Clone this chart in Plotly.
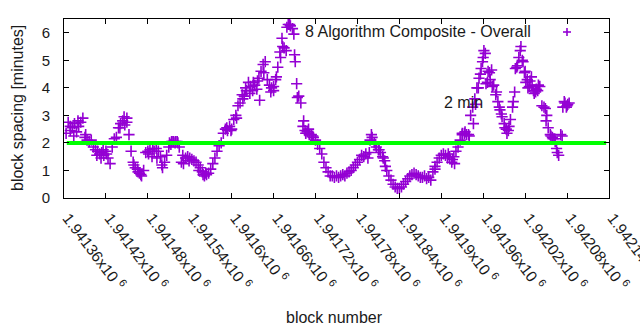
import plotly.graph_objects as go

# ---- data -------------------------------------------------------------
first_block = 1941363
block_step = 3
spacing_minutes = [
    2.35, 2.75, 2.6, 2.55, 2.7, 2.4, 2.6, 2.75, 2.9,
    2.2, 2.1, 2.05, 2.1, 1.85, 1.75, 1.7, 1.6, 1.65, 1.55, 1.7, 1.45, 1.25,
    1.85, 2.15, 2.2, 2.55, 2.7, 2.8, 2.65, 2.9, 2.3, 1.7, 1.3, 1.1, 1.05, 0.9, 0.8, 1.0,
    1.65, 1.7, 1.75, 1.5, 1.7, 1.8, 1.7, 1.5, 1.1, 1.3, 1.55, 1.85, 1.95, 2.05, 2.0, 2.05,
    1.85, 1.3, 1.25, 1.45, 1.5, 1.45, 1.4, 1.35, 1.3, 1.2, 1.1, 0.95, 0.8, 0.85, 0.9, 1.05,
    1.25, 1.45, 1.7, 1.9, 2.0, 2.35, 2.5, 2.45, 2.6, 2.5, 2.85, 3.0, 3.35, 3.45, 3.75, 3.7,
    3.9, 4.2, 4.05, 3.9, 4.1, 3.95, 4.35, 4.6, 4.85, 4.95, 4.3, 4.1, 4.0, 3.9, 4.3, 4.75,
    5.3, 5.8, 5.45, 5.35, 6.3, 6.25, 6.15, 5.2, 4.15, 3.7, 3.45, 2.6, 2.45, 2.4, 2.3, 2.3,
    2.2, 2.1, 1.95, 1.8, 1.6, 1.3, 1.1, 0.95, 0.8, 0.8, 0.75, 0.8, 0.75, 0.8, 0.85, 0.8,
    0.9, 0.95, 1.0, 1.1, 1.2, 1.3, 1.4, 1.55, 1.5, 1.6, 1.45, 2.1, 2.2, 2.0, 1.85, 1.75,
    1.65, 1.5, 1.35, 1.0, 0.8, 0.65, 0.5, 0.4, 0.35, 0.35, 0.4, 0.5, 0.6, 0.7, 0.8, 0.85,
    0.9, 0.85, 0.8, 0.75, 0.75, 0.8, 0.7, 0.75, 0.65, 0.95, 1.15, 1.3, 1.45, 1.55, 1.6, 1.55,
    1.45, 1.5, 1.3, 1.5, 1.7, 1.85, 2.1, 2.3, 2.35, 2.3, 2.3, 3.0, 3.3, 3.6, 4.0, 4.35,
    4.7, 5.1, 5.25, 4.2, 4.55, 4.65, 4.1, 3.75, 3.5, 3.2, 2.95, 2.7, 2.5, 2.45, 2.85, 3.3,
    3.85, 4.75, 5.1, 5.5, 4.95, 4.6, 4.3, 4.05, 4.4, 3.9, 3.85, 3.9, 4.05, 3.35, 3.3, 2.8,
    2.55, 2.3, 2.2, 2.15, 1.8, 1.55, 2.3, 3.3, 3.45, 3.35,
]
blocks = [first_block + block_step * i for i in range(len(spacing_minutes))]

# additional scattered blocks
extra_blocks = [
    1941369, 1941374, 1941380, 1941391, 1941407, 1941413, 1941416, 1941421,
    1941440, 1941446, 1941450, 1941460, 1941466, 1941470, 1941481, 1941487,
    1941493, 1941500, 1941511, 1941514, 1941517, 1941520, 1941523, 1941530,
    1941539, 1941553, 1941559, 1941563, 1941593, 1941599, 1941607, 1941616,
    1941620, 1941626, 1941631, 1941637, 1941640, 1941646, 1941656, 1941660,
    1941664, 1941670, 1941673, 1941679, 1941683, 1941689, 1941691, 1941694,
    1941703, 1941706, 1941710, 1941716, 1941797, 1941800, 1941806, 1941811,
    1941817, 1941820, 1941891, 1941910, 1941916, 1941919, 1941930, 1941934,
    1941940, 1941946, 1941949, 1941953, 1941956, 1941959, 1941961, 1941964,
    1941967, 1941970, 1941973, 1941979, 1941983, 1941986, 1941991, 1941994,
    1941997, 1942003, 1942006, 1942009, 1942013, 1942016, 1942019, 1942021,
    1942024, 1942027, 1942030, 1942033, 1942036, 1942039, 1942049, 1942051,
    1942057, 1942060, 1942063, 1942066, 1942073, 1942076, 1942079, 1942081,
    1942083,
]
extra_minutes = [
    2.45, 2.25, 2.8, 2.3, 1.55, 1.45, 1.75, 1.6,
    2.55, 2.95, 2.75, 1.2, 0.95, 0.85, 1.6, 1.8,
    1.45, 1.2, 2.0, 2.05, 2.05, 2.05, 2.0, 1.55,
    1.35, 1.0, 0.85, 0.9, 2.55, 2.45, 2.9, 3.6,
    4.0, 3.8, 4.2, 4.25, 3.55, 4.55, 3.85, 4.05,
    4.4, 5.1, 5.5, 6.2, 6.3, 5.95, 4.95, 3.65,
    2.8, 2.35, 2.5, 2.25, 1.65, 2.3, 1.95, 1.75,
    1.45, 1.15, 1.05, 1.6, 1.4, 1.25, 2.35, 2.4,
    2.25, 2.7, 3.4, 4.0, 4.5, 4.95, 5.35, 4.15,
    4.6, 4.3, 4.05, 3.85, 3.3, 3.05, 2.55, 2.35,
    2.6, 3.5, 4.7, 4.8, 5.35, 5.0, 4.55, 4.2,
    4.0, 4.25, 4.1, 3.8, 3.95, 4.1, 3.25, 3.0,
    2.25, 2.15, 2.05, 1.65, 2.25, 3.5, 3.3, 3.4,
    3.45,
]

target_blocks = [1941364, 1942136]
target_minutes = [2, 2]

x_tick_blocks = [1941360 + 60 * k for k in range(14)]
x_tick_text = ["1.94136", "1.94142", "1.94148", "1.94154", "1.9416", "1.94166",
               "1.94172", "1.94178", "1.94184", "1.9419", "1.94196", "1.94202",
               "1.94208", "1.94214"]
y_ticks = [0, 1, 2, 3, 4, 5, 6]

series_name = "8 Algorithm Composite - Overall"
target_name = "2 min"

PURPLE = "#9400D3"
GREEN = "#00FF00"
FONT = "Liberation Sans, Arial, sans-serif"
TXT = "#1a1a1a"

L, R, T, B = 64, 609, 19, 198
PW, PH = R - L, B - T

pts = sorted(zip(blocks + extra_blocks, spacing_minutes + extra_minutes))

fig = go.Figure()
fig.add_trace(go.Scatter(
    x=[p[0] for p in pts], y=[p[1] for p in pts], mode="markers", name=series_name,
    marker=dict(symbol="cross-thin", size=8, line=dict(color=PURPLE, width=1.6)),
    showlegend=False,
))
fig.add_trace(go.Scatter(
    x=target_blocks, y=target_minutes, mode="lines", name=target_name,
    line=dict(color=GREEN, width=4), showlegend=False,
))

axis_common = dict(
    showline=True, linecolor="black", linewidth=1, mirror="ticks",
    ticks="inside", ticklen=5, tickcolor="black", showgrid=False, zeroline=False,
    automargin=False,
)
fig.update_xaxes(
    range=[1941360, 1942140.05], tickvals=x_tick_blocks,
    ticktext=[t + "x10 <sup>6</sup>" for t in x_tick_text], tickangle=53,
    tickfont=dict(family=FONT, size=15.5, color=TXT),
    ticklabelstandoff=4, ticklabelshift=4, ticklabeloverflow="allow",
    **axis_common,
)
fig.update_yaxes(
    range=[0, 6.5], tickvals=y_ticks,
    tickfont=dict(family=FONT, size=15, color=TXT),
    ticklabelstandoff=10,
    **axis_common,
)

# axis titles
fig.add_annotation(xref="paper", yref="paper", x=(334.5 - L) / PW, y=(B - 317) / PH,
                   xanchor="center", yanchor="middle", text="block number", showarrow=False,
                   font=dict(family=FONT, size=16, color=TXT))
fig.add_annotation(xref="paper", yref="paper", x=(17 - L) / PW, y=(B - 108) / PH,
                   xanchor="center", yanchor="middle", text="block spacing [minutes]",
                   textangle=-90, showarrow=False,
                   font=dict(family=FONT, size=16, color=TXT))

# key texts
fig.add_annotation(xref="paper", yref="paper", x=(533 - L) / PW, y=(B - 32) / PH,
                   xanchor="right", yanchor="middle", text=series_name, showarrow=False,
                   font=dict(family=FONT, size=16, color=TXT))
fig.add_annotation(xref="paper", yref="paper", x=(485 - L) / PW, y=(B - 102) / PH,
                   xanchor="right", yanchor="middle", text=target_name, showarrow=False,
                   font=dict(family=FONT, size=16, color=TXT))
# legend key (cross) for the series
kx, ky, h = (567 - L) / PW, (B - 32) / PH, 4
fig.add_shape(type="line", xref="paper", yref="paper", x0=kx - h / PW, x1=kx + h / PW,
              y0=ky, y1=ky, line=dict(color=PURPLE, width=1.6))
fig.add_shape(type="line", xref="paper", yref="paper", x0=kx, x1=kx,
              y0=ky - h / PH, y1=ky + h / PH, line=dict(color=PURPLE, width=1.6))

fig.update_layout(
    width=640, height=330, margin=dict(l=L, r=640 - R, t=T, b=330 - B),
    paper_bgcolor="white", plot_bgcolor="white", showlegend=False,
    font=dict(family=FONT, size=15, color=TXT),
)
fig.write_html("out.html")
